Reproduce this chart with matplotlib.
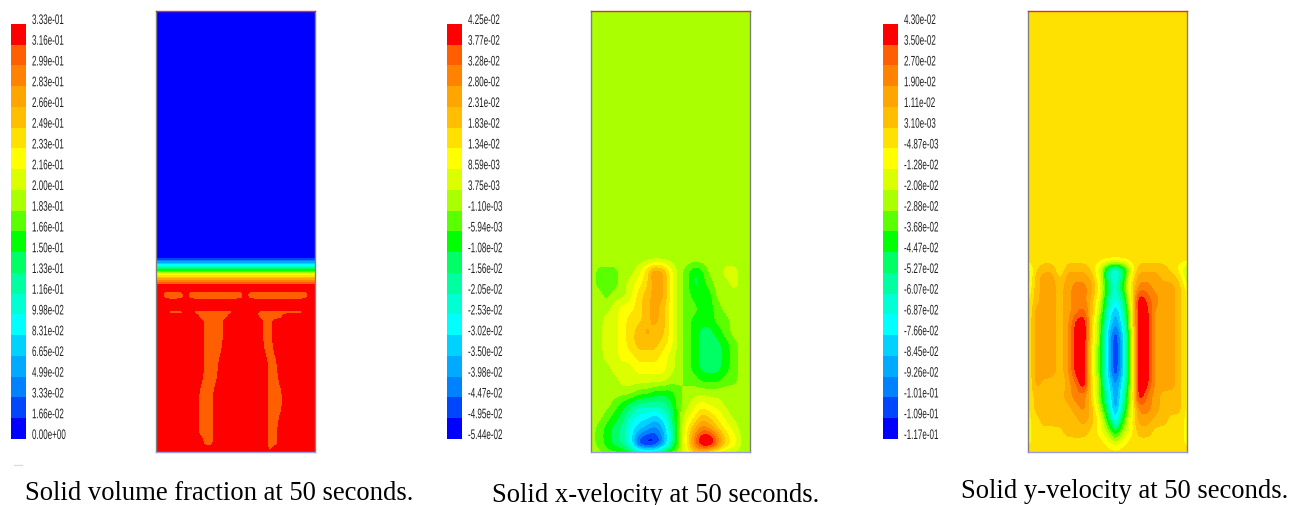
import numpy as np
import matplotlib
matplotlib.use('Agg')
import matplotlib.pyplot as plt
import matplotlib.patheffects as pe
from matplotlib.colors import ListedColormap
from matplotlib.lines import Line2D
from matplotlib.transforms import Affine2D

W, H = 1291, 505

# colour bands of the legend, bottom to top
band_colors = ['#0000ff', '#0046ff', '#0082ff', '#00aaff', '#00d2ff', '#00ffff', '#00ffd2', '#00ffa0',
               '#00ff64', '#00ff00', '#5aff00', '#aaff00', '#dcff00', '#ffff00', '#ffe100', '#ffbe00',
               '#ffa500', '#ff8200', '#ff5f00', '#ff0000']

vf_labels = ['3.33e-01', '3.16e-01', '2.99e-01', '2.83e-01', '2.66e-01', '2.49e-01', '2.33e-01',
             '2.16e-01', '2.00e-01', '1.83e-01', '1.66e-01', '1.50e-01', '1.33e-01', '1.16e-01',
             '9.98e-02', '8.31e-02', '6.65e-02', '4.99e-02', '3.33e-02', '1.66e-02', '0.00e+00']
ux_labels = ['4.25e-02', '3.77e-02', '3.28e-02', '2.80e-02', '2.31e-02', '1.83e-02', '1.34e-02',
             '8.59e-03', '3.75e-03', '-1.10e-03', '-5.94e-03', '-1.08e-02', '-1.56e-02', '-2.05e-02',
             '-2.53e-02', '-3.02e-02', '-3.50e-02', '-3.98e-02', '-4.47e-02', '-4.95e-02', '-5.44e-02']
uy_labels = ['4.30e-02', '3.50e-02', '2.70e-02', '1.90e-02', '1.11e-02', '3.10e-03', '-4.87e-03',
             '-1.28e-02', '-2.08e-02', '-2.88e-02', '-3.68e-02', '-4.47e-02', '-5.27e-02', '-6.07e-02',
             '-6.87e-02', '-7.66e-02', '-8.45e-02', '-9.26e-02', '-1.01e-01', '-1.09e-01', '-1.17e-01']

# fields, one character per grid node = colour band (0-9, a-j, k = above the top band)
vf_y = [0, 247, 251, 254, 257, 259, 262, 265, 268, 272, 275, 279, 282, 286, 290, 298, 301, 305,
        311, 329, 359, 389, 419, 432, 437, 441]
vf_rows = ['000000000000000000000000000000000',
           '000000000000000000000000000000000',
           '333333333333333333333333333333333',
           '555555555555555555555555555555555',
           '777777777777777777777777777777777',
           '999999999999999999999999999999999',
           'ccccccccccccccccccccccccccccccccc',
           'eeeeeeeeeeeeeeeeeeeeeeeeeeeeeeeee',
           'ggggggggggggggggggggggggggggggggg',
           'iiiiiiiiiiiiiiiiiiiiiiiiiiiiiiiii',
           'jjjjjjjjjjjjjjjjjjjjjjjjjjjjjjjjj',
           'jjjjjjjjjjjjjjjjjjjjjjjjjjjjjjjjj',
           'jjiiiijiiiiiiiiiiijiiiiiiiiiiiijj',
           'jjiiiijiiiiiiiiiiijiiiiiiiiiiiijj',
           'jjjjjjjjjjjjjjjjjjjjjjjjjjjjjjjjj',
           'jjjjjjjjjjjjjjjjjjjjjjjjjjjjjjjjj',
           'jjjiiijjiiiiiiiijjjjjiiiiiiiiijjj',
           'jjjjjjjjjiiiiiijjjjjjiiiiijjjjjjj',
           'jjjjjjjjjjiiiijjjjjjjjiijjjjjjjjj',
           'jjjjjjjjjjiiiijjjjjjjjiijjjjjjjjj',
           'jjjjjjjjjjiiijjjjjjjjjjiijjjjjjjj',
           'jjjjjjjjjiiijjjjjjjjjjjiiijjjjjjj',
           'jjjjjjjjjiiijjjjjjjjjjjiijjjjjjjj',
           'jjjjjjjjjjiijjjjjjjjjjjiijjjjjjjj',
           'jjjjjjjjjjjjjjjjjjjjjjjijjjjjjjjj',
           'jjjjjjjjjjjjjjjjjjjjjjjjjjjjjjjjj']

ux_y = [0, 249, 261, 273, 285, 297, 309, 321, 333, 345, 357, 369, 381, 393, 405, 417, 428, 435, 441]
ux_rows = ['bbbbbbbbbbbbbbbbbbbbb',
           'bbbbbbbbbbbbbbbbbbbbb',
           'baaabbcehgdba89bbccbb',
           'baaabcdeggdba89abbcbb',
           'bbabbcefggdba989bbbbb',
           'bbbcddefgfdbaa99abbbb',
           'bbccdeefgfdba999aabbb',
           'bbccdefgffdba9889abbb',
           'bbccdefffedba98889abb',
           'bbccddeeedcba98889abb',
           'bbbcccddddcba98889abb',
           'bbbbccccccbbaa999aabb',
           'bbbbbbaa999abbbbbbbbb',
           'bbba9877778abcdccbbbb',
           'bba98655457acdfedcbbb',
           'ba987543236adfhgedcbb',
           'ba987510026adhkkhedbb',
           'ba987500026adhkkhedbb',
           'bbaaa98779abcedcbbbbb']

uy_y = [0, 249, 257, 265, 277, 289, 301, 313, 325, 337, 349, 361, 373, 385, 397, 409, 421, 431, 441]
uy_rows = ['eeeeeeeeeeeeeeeeeeeee',
           'eeeeeeeeeeeeeeeeeeeee',
           'ceffdfffec757cffffedb',
           'bfggegggfc758dgggffeb',
           'cfggfghhgd869ehhgggfd',
           'dfggfghhfc757dkihggfd',
           'dgggfghifb636ckjgggfd',
           'dgggfgjkea525ckjgggfd',
           'dgggfgjkea404bkjgggfd',
           'dgggfgjkda404bkjgggfd',
           'dgggfgjkda404bkjgggfd',
           'dgggfgjkda404bkjgggfd',
           'dgffeghkea525bkjgggfd',
           'dffffghhea626ckhgfffd',
           'dfffffghfb727chhgfffd',
           'defffffgfd949dggffeed',
           'deeeefffedb8bdffeeeed',
           'deeeeeeeeedbdeeeeeeed',
           'eeeeeeeeeeeeeeeeeeeee']

captions = ['Solid volume fraction at 50 seconds.', 'Solid x-velocity at 50 seconds.', 'Solid y-velocity at 50 seconds.']


class Squeeze(pe.AbstractPathEffect):
    # legend labels in the picture are tall and narrow
    def __init__(self, sx):
        super().__init__()
        self.sx = sx

    def draw_path(self, renderer, gc, tpath, affine, rgbFace=None):
        renderer.draw_path(gc, tpath, Affine2D().scale(self.sx, 1) + affine, rgbFace)


def to_grid(rows):
    return np.array([[int(c, 21) + 0.5 for c in r] for r in rows])


def blur(a, sigma, axis):
    r = int(3 * sigma) + 1
    k = np.exp(-0.5 * (np.arange(-r, r + 1) / sigma) ** 2)
    k /= k.sum()
    a = np.pad(a, [(r, r) if i == axis else (0, 0) for i in range(2)], mode='edge')
    return np.apply_along_axis(lambda v: np.convolve(v, k, mode='valid'), axis, a)


def soften(grid, ys, sx, sy):
    # the original is a smooth solver plot, so take the read nodes to a pixel grid and soften them
    xf = np.linspace(0, 160, grid.shape[1])
    xp = np.arange(0, 161)
    yp = np.arange(0, 442)
    a = np.array([np.interp(xp, xf, r) for r in grid])
    a = np.array([np.interp(yp, ys, c) for c in a.T]).T
    a = blur(blur(a, sx, 1), sy, 0)
    return xp, yp, np.clip(a, 0.01, 19.99)


def px_axes(fig, x0, y0, x1, y1):
    # axes from picture pixels, y counted from the top
    return fig.add_axes([x0 / W, 1 - y1 / H, (x1 - x0) / W, (y1 - y0) / H])


fig = plt.figure(figsize=(W / 100, H / 100), dpi=100)
levels = np.arange(21)

panels = [(11, 156, vf_rows, vf_y, vf_labels, 25, 494, 1.0, 1.0),
          (447, 591, ux_rows, ux_y, ux_labels, 492, 495, 3.0, 4.0),
          (883, 1028, uy_rows, uy_y, uy_labels, 961, 492, 2.5, 4.0)]

for (num, (bar_x, field_x, rows, ys, labels, cap_x, cap_y, sx, sy)) in enumerate(panels):
    # colour legend
    ax = px_axes(fig, bar_x, 24, bar_x + 15, 439)
    ax.imshow(np.arange(20)[::-1].reshape(-1, 1), cmap=ListedColormap(band_colors),
              aspect='auto', interpolation='nearest')
    ax.axis('off')
    for i, lab in enumerate(labels):
        t = fig.text((bar_x + 21) / W, 1 - (20 + i * 20.75) / H, lab, fontsize=10, va='center', ha='left',
                     family='Liberation Sans', color='#222222')
        t.set_path_effects([Squeeze(0.58)])

    # contour field
    xp, yp, field = soften(to_grid(rows), ys, sx, sy)
    ax = px_axes(fig, field_x, 11, field_x + 159, 452)
    ax.contourf(xp, yp, field, levels=levels, colors=band_colors)
    ax.set_xlim(0, 160)
    ax.set_ylim(441, 0)
    ax.set_xticks([])
    ax.set_yticks([])
    ax.spines['top'].set_color('#e0302a')
    ax.spines['left'].set_color('#808080')
    ax.spines['right'].set_color('#808080')
    ax.spines['bottom'].set_color('#9a9ae6')
    for s in ax.spines.values():
        s.set_linewidth(1.0)

    fig.text(cap_x / W, 1 - cap_y / H, captions[num], fontsize=19.15, va='center', ha='left',
             family='Liberation Serif', color='black')

fig.add_artist(Line2D([14 / W, 22 / W], [1 - 465 / H, 1 - 465 / H], color='#dddddd', lw=1))

plt.savefig('out.png', dpi=100)
